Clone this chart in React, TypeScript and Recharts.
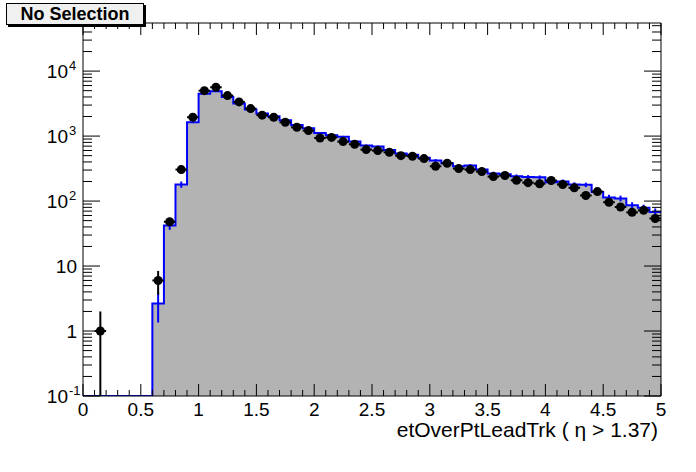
import { ComposedChart, Area, Scatter, XAxis, YAxis, ErrorBar } from 'recharts';

// binning of etOverPtLeadTrk
const xMin = 0;
const xMax = 5;
const binWidth = 0.1;
const yFloor = 0.1;
const yCeil = 55000;

// MC histogram (grey fill, blue outline), 50 bins
const histCounts = [
  0, 0, 0, 0, 0, 0, 2.65, 42, 180, 1630,
  4500, 4900, 4000, 3160, 2560, 2220, 2020, 1750, 1480, 1315,
  1120, 1030, 975, 823, 714, 690, 613, 540, 515, 465,
  420, 382, 343, 352, 305, 265, 258, 240, 235, 232,
  195, 200, 180, 178, 138, 113, 110, 86, 79, 68,
];
const histErrors = [
  0, 0, 0, 0, 0, 0, 1.3, 6, 20, 45,
  75, 80, 70, 60, 55, 50, 48, 45, 40, 38,
  36, 34, 33, 30, 28, 28, 26, 25, 24, 23,
  22, 21, 20, 20, 19, 18, 17, 17, 16, 16,
  15, 15, 14, 14, 13, 12, 11, 10, 9, 9,
];

// data points (black markers)
const dataCounts = [
  null, 1, null, null, null, null, 6, 48, 305, 1950,
  5000, 5640, 4200, 3360, 2650, 2100, 1950, 1630, 1365, 1215,
  935, 955, 822, 748, 620, 598, 563, 500, 490, 450,
  343, 382, 316, 305, 284, 238, 247, 209, 192, 185,
  207, 180, 160, 122, 140, 96, 81, 67, 72, 54,
];
const dataErrors = [
  0, 1, 0, 0, 0, 0, 2.4, 6.9, 17, 44,
  71, 75, 65, 58, 51, 46, 44, 40, 37, 35,
  31, 31, 29, 27, 25, 24, 24, 22, 22, 21,
  19, 20, 18, 17, 17, 15, 16, 14, 14, 14,
  14, 13, 13, 11, 12, 10, 9, 8, 8.5, 7.3,
];

const xTitle = 'etOverPtLeadTrk ( \u03b7 > 1.37)';
const boxTitle = 'No Selection';

const font = '"Liberation Sans", Arial, Helvetica, sans-serif';

const nBins = histCounts.length;
const edges = Array.from({ length: nBins + 1 }, (_, i) => Number((xMin + i * binWidth).toFixed(2)));

// step outline: one row per left edge, last edge repeats the final bin
const histRows = edges.map((x, i) => {
  const v = histCounts[Math.min(i, nBins - 1)];
  return { x, y: v > 0 ? v : yFloor };
});

const histErrRows = histCounts
  .map((v, i) => ({ x: edges[i] + binWidth / 2, y: v, e: histErrors[i] }))
  .filter((r) => r.y > 0);

const pointRows = dataCounts
  .map((v, i) => ({
    x: edges[i] + binWidth / 2,
    y: v,
    ex: binWidth / 2,
    ey: v == null ? 0 : [Math.min(dataErrors[i], v - yFloor), dataErrors[i]],
  }))
  .filter((r) => r.y != null);

const xTicks = edges;
const yTicks: number[] = [];
for (let e = -1; e <= 4; e++) {
  for (let d = 1; d <= 9; d++) {
    const v = Number((d * Math.pow(10, e)).toPrecision(3));
    if (v <= yCeil) yTicks.push(v);
  }
}

const isMajorX = (v: number) => Math.abs(v * 2 - Math.round(v * 2)) < 1e-6;
const isDecade = (v: number) => Math.abs(Math.log10(v) - Math.round(Math.log10(v))) < 1e-6;

function BottomTick({ x, y, payload }: any) {
  const v = payload.value;
  const major = isMajorX(v);
  return (
    <g>
      <line x1={x} x2={x} y1={y} y2={y - (major ? 12 : 6)} stroke="#000" />
      {major && (
        <text x={x} y={y + 20} textAnchor="middle" fontSize={19} fontFamily={font} fill="#000">
          {String(Number(v.toFixed(1)))}
        </text>
      )}
    </g>
  );
}

function TopTick({ x, y, payload }: any) {
  const major = isMajorX(payload.value);
  return <line x1={x} x2={x} y1={y} y2={y + (major ? 12 : 6)} stroke="#000" />;
}

function LeftTick({ x, y, payload }: any) {
  const v = payload.value;
  const major = isDecade(v);
  const exp = Math.round(Math.log10(v));
  let label = null;
  if (major) {
    if (exp === 0 || exp === 1) {
      label = (
        <text x={x - 6} y={y + 7} textAnchor="end" fontSize={19} fontFamily={font} fill="#000">
          {exp === 0 ? '1' : '10'}
        </text>
      );
    } else {
      label = (
        <g>
          <text x={x - 15} y={y + 7} textAnchor="end" fontSize={19} fontFamily={font} fill="#000">
            10
          </text>
          <text x={x - 14} y={y - 1} textAnchor="start" fontSize={13} fontFamily={font} fill="#000">
            {String(exp)}
          </text>
        </g>
      );
    }
  }
  return (
    <g>
      <line x1={x} x2={x + (major ? 17 : 9)} y1={y} y2={y} stroke="#000" />
      {label}
    </g>
  );
}

function RightTick({ x, y, payload }: any) {
  const major = isDecade(payload.value);
  return <line x1={x} x2={x - (major ? 17 : 9)} y1={y} y2={y} stroke="#000" />;
}

const Marker = (props: any) => <circle cx={props.cx} cy={props.cy} r={4.5} fill="#000" />;
const NoMarker = () => <g />;

export default function App() {
  return (
    <div style={{ position: 'absolute', left: 0, top: 0, width: 696, height: 472, background: '#fff' }}>
      <ComposedChart
        width={696}
        height={472}
        data={histRows}
        margin={{ top: 13, right: 25, bottom: 36, left: 23 }}
      >
        <XAxis
          xAxisId="b"
          dataKey="x"
          type="number"
          domain={[xMin, xMax]}
          allowDataOverflow
          ticks={xTicks}
          interval={0}
          height={40}
          tickSize={0}
          tickMargin={0}
          tickLine={false}
          axisLine={{ stroke: '#000' }}
          tick={(p: any) => <BottomTick {...p} />}
          label={{
            content: (p: any) => {
              const vb = p.viewBox;
              return (
                <text x={vb.x + vb.width - 3} y={vb.y + 41} textAnchor="end" fontSize={21} fontFamily={font} fill="#000">
                  {xTitle}
                </text>
              );
            },
          }}
        />
        <XAxis
          xAxisId="t"
          orientation="top"
          dataKey="x"
          type="number"
          domain={[xMin, xMax]}
          allowDataOverflow
          ticks={xTicks}
          interval={0}
          height={10}
          tickSize={0}
          tickMargin={0}
          tickLine={false}
          axisLine={{ stroke: '#000' }}
          tick={(p: any) => <TopTick {...p} />}
        />
        <YAxis
          yAxisId="l"
          dataKey="y"
          scale="log"
          type="number"
          domain={[yFloor, yCeil]}
          allowDataOverflow
          ticks={yTicks}
          interval={0}
          width={60}
          tickSize={0}
          tickMargin={0}
          tickLine={false}
          axisLine={{ stroke: '#000' }}
          tick={(p: any) => <LeftTick {...p} />}
        />
        <YAxis
          yAxisId="r"
          orientation="right"
          dataKey="y"
          scale="log"
          type="number"
          domain={[yFloor, yCeil]}
          allowDataOverflow
          ticks={yTicks}
          interval={0}
          width={10}
          tickSize={0}
          tickMargin={0}
          tickLine={false}
          axisLine={{ stroke: '#000' }}
          tick={(p: any) => <RightTick {...p} />}
        />
        <Area
          xAxisId="b"
          yAxisId="l"
          dataKey="y"
          type="stepAfter"
          baseValue={yFloor}
          fill="#b3b3b3"
          fillOpacity={1}
          stroke="#0000ff"
          strokeWidth={2}
          dot={false}
          activeDot={false}
          isAnimationActive={false}
        />
        <Scatter xAxisId="b" yAxisId="l" data={histErrRows} dataKey="y" shape={NoMarker} isAnimationActive={false}>
          <ErrorBar dataKey="e" direction="y" width={0} stroke="#0000ff" strokeWidth={2} isAnimationActive={false} />
        </Scatter>
        <Scatter xAxisId="b" yAxisId="l" data={pointRows} dataKey="y" shape={Marker} isAnimationActive={false}>
          <ErrorBar dataKey="ey" direction="y" width={0} stroke="#000" strokeWidth={2} isAnimationActive={false} />
          <ErrorBar dataKey="ex" direction="x" width={0} stroke="#000" strokeWidth={2} isAnimationActive={false} />
        </Scatter>
      </ComposedChart>
      <div
        style={{
          position: 'absolute',
          left: 6,
          top: 3,
          width: 136,
          height: 20,
          border: '1px solid #000',
          boxShadow: '2px 2px 0 #000',
          background: '#f0f0f0',
          fontFamily: font,
          fontWeight: 'bold',
          fontSize: 18,
          lineHeight: '20px',
          textAlign: 'center',
          color: '#000',
        }}
      >
        {boxTitle}
      </div>
    </div>
  );
}
